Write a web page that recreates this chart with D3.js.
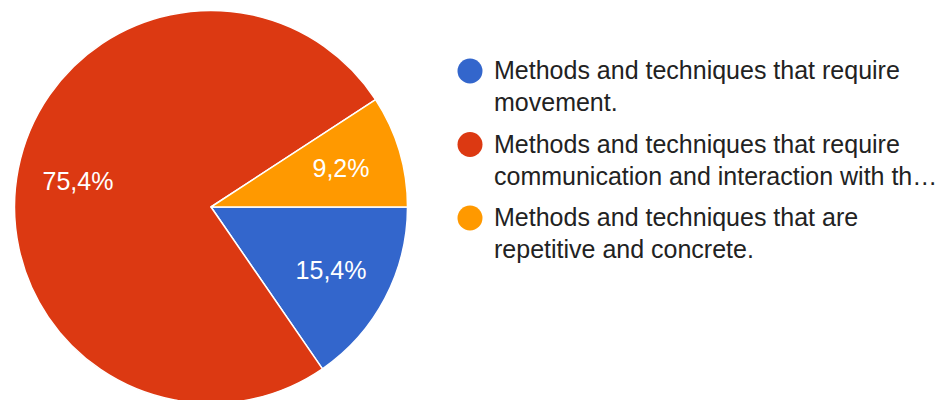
<!DOCTYPE html>
<html>
<head>
<meta charset="utf-8">
<script src="https://cdn.jsdelivr.net/npm/d3@7"></script>
<style>
  html, body { margin: 0; padding: 0; background: #fff; }
  svg { display: block; font-family: Arial, "Liberation Sans", sans-serif; }
</style>
</head>
<body>
<svg id="chart" width="951" height="400"></svg>
<script>
// Survey answers: share of responses per category (percent)
const categories = [
  "Methods and techniques that require movement.",
  "Methods and techniques that require communication and interaction with th\u2026",
  "Methods and techniques that are repetitive and concrete."
];
const legendLines = [
  ["Methods and techniques that require", "movement."],
  ["Methods and techniques that require", "communication and interaction with th\u2026"],
  ["Methods and techniques that are", "repetitive and concrete."]
];
const values = [15.4, 75.4, 9.2];
const valueLabels = ["15,4%", "75,4%", "9,2%"];
const colors = ["#3366cc", "#dc3912", "#ff9900"];

const svg = d3.select("#chart");
const cx = 211, cy = 207, R = 196.5;

const color = d3.scaleOrdinal().domain(categories).range(colors);

// Slices start at 3 o'clock and run clockwise
const pie = d3.pie()
  .sort(null)
  .value(d => d.value)
  .startAngle(Math.PI / 2)
  .endAngle(Math.PI / 2 + 2 * Math.PI);

const data = categories.map((c, i) => ({ name: c, value: values[i], label: valueLabels[i] }));
const arcs = pie(data);

const arc = d3.arc().innerRadius(0).outerRadius(R);
const labelArc = d3.arc().innerRadius(R * 0.69).outerRadius(R * 0.69);

const g = svg.append("g").attr("transform", `translate(${cx},${cy})`);

g.selectAll("path.slice")
  .data(arcs)
  .join("path")
  .attr("class", "slice")
  .attr("d", arc)
  .attr("fill", d => color(d.data.name))
  .attr("stroke", "#ffffff")
  .attr("stroke-width", 1.5)
  .attr("stroke-linejoin", "round");

g.selectAll("text.pct")
  .data(arcs)
  .join("text")
  .attr("class", "pct")
  .attr("transform", d => `translate(${labelArc.centroid(d)})`)
  .attr("text-anchor", "middle")
  .attr("dy", "0.36em")
  .attr("fill", "#ffffff")
  .attr("font-size", 25)
  .text(d => d.data.label);

// Legend
const legend = svg.append("g").attr("transform", "translate(470,71)");
const item = legend.selectAll("g.item")
  .data(categories)
  .join("g")
  .attr("class", "item")
  .attr("transform", (d, i) => `translate(0,${i * 73.5})`);

item.append("circle")
  .attr("r", 12.5)
  .attr("fill", d => color(d));

item.append("text")
  .attr("x", 24)
  .attr("y", 8)
  .attr("fill", "#222222")
  .attr("font-size", 25)
  .selectAll("tspan")
  .data((d, i) => legendLines[i])
  .join("tspan")
  .attr("x", 24)
  .attr("dy", (d, j) => j === 0 ? 0 : 32)
  .text(d => d);
</script>
</body>
</html>
